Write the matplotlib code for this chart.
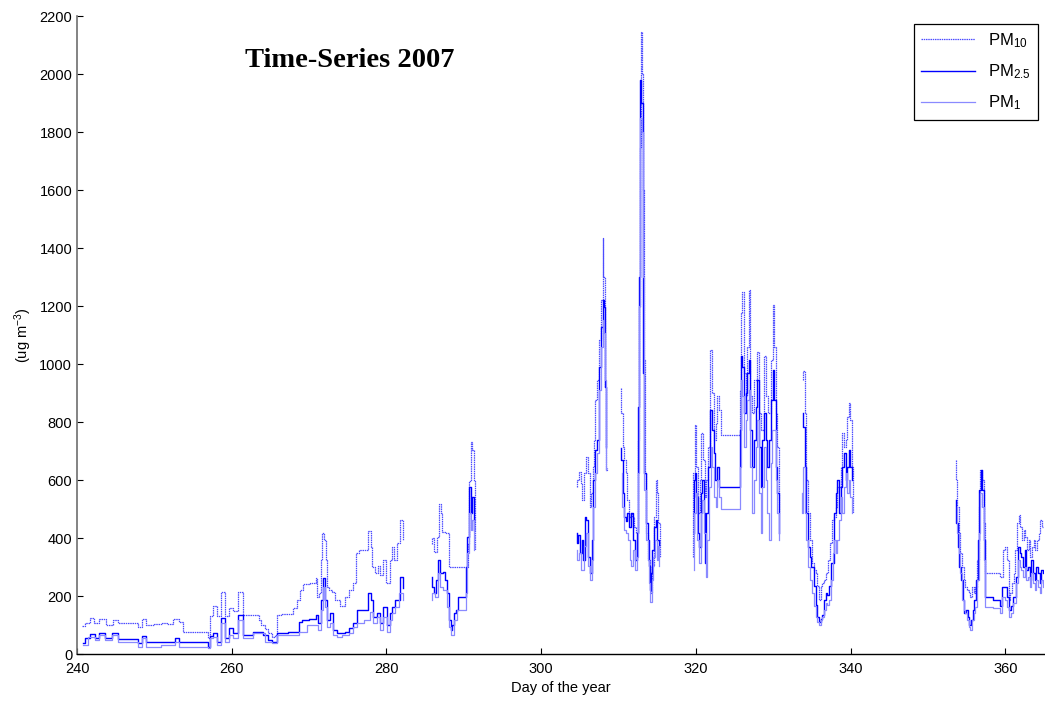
import numpy as np
import matplotlib
matplotlib.use("Agg")
import matplotlib.pyplot as plt

plt.rcParams['font.family'] = ['Liberation Sans', 'DejaVu Sans']
plt.rcParams['mathtext.fontset'] = 'custom'
plt.rcParams['mathtext.rm'] = 'Liberation Sans'
plt.rcParams['mathtext.it'] = 'Liberation Sans'
plt.rcParams['mathtext.default'] = 'regular'

NAN = np.nan

# PM10 concentrations (ug m-3), day of year; nan separates measurement campaigns
pm10_day = [
    240.7, 241.25, 242.0, 242.5, 243.2, 244.3, 244.9, 245.6, 247.7, 248.1, 248.7, 249.2,
    250.7, 251.2, 252.0, 252.9, 253.5, 253.8, 256.8, 257.0, 257.4, 257.8, 258.3, 258.9,
    259.4, 260.0, 260.4, 261.1, 261.7, 263.4, 263.65, 264.0, 264.5, 264.94, 265.37, 265.8,
    266.0, 266.66, 267.74, 268.17, 268.6, 269.03, 269.46, 270.75, 270.97, 271.18, 271.4,
    271.6, 271.83, 272.05, 272.26, 272.48, 272.7, 273.12, 273.55, 274.4, 274.85, 275.5,
    275.9, 276.35, 276.57, 277.43, 277.86, 278.08, 278.3, 278.7, 279.07, 279.37, 279.8,
    280.2, 280.66, 280.87, 281.2, 281.5, 281.95, 282.3, NAN,
    285.74, 286.04, 286.34, 286.6, 286.9, 287.12, 287.33, 287.98, 288.11, 290.35, 290.61,
    290.78, 291.0, 291.21, 291.34, 291.47, NAN,
    304.6, 304.77, 304.98, 305.2, 305.41, 305.76, 305.93, 306.19, 306.36, 306.58, 306.71,
    306.92, 307.05, 307.35, 307.65, 307.91, 307.98, 308.1, 308.34, 308.43, 308.6, NAN,
    310.28, 310.45, 310.58, 310.8, 311.01, 311.23, 311.44, 311.66, 311.87, 312.22, 312.39,
    312.56, 312.74, 312.9, 313.0, 313.1, 313.25, 313.38, 313.51, 313.68, 313.94, 314.11,
    314.29, 314.46, 314.67, 314.89, 315.06, 315.23, 315.41, NAN,
    319.42, 319.72, 319.98, 320.15, 320.41, 320.58, 320.84, 321.01, 321.27, 321.44, 321.7,
    322.0, 322.22, 322.43, 322.65, 322.86, 323.08, 323.29, 325.6, 325.75, 325.92, 326.09,
    326.31, 326.52, 326.74, 326.95, 327.13, 327.38, 327.73, 328.03, 328.25, 328.59, 328.89,
    329.19, 329.54, 329.88, 330.05, 330.23, 330.4, 330.61, 330.74, NAN,
    333.63, 333.93, 334.19, 334.36, 334.62, 334.92, 335.14, 335.35, 335.57, 335.78, 336.0,
    336.21, 336.43, 336.64, 336.86, 337.2, 337.5, 337.72, 337.94, 338.15, 338.37, 338.58,
    338.8, 339.01, 339.23, 339.44, 339.66, 339.87, 340.09, 340.22, 340.3, NAN,
    353.57, 353.65, 353.87, 354.08, 354.3, 354.51, 354.73, 354.94, 355.16, 355.37, 355.59,
    355.8, 356.02, 356.24, 356.45, 356.67, 356.88, 357.1, 357.31, 357.44, 359.25, 359.46,
    359.9, 360.11, 360.33, 360.54, 360.76, 360.97, 361.19, 361.4, 361.66, 361.83, 362.05,
    362.26, 362.48, 362.7, 362.91, 363.13, 363.34, 363.56, 363.77, 363.99, 364.2, 364.42,
    364.63, 364.85,
]
pm10_val = [
    95, 108, 125, 106, 120, 100, 118, 108, 108, 92, 120, 100,
    104, 108, 102, 122, 110, 75, 75, 54, 130, 165, 130, 215,
    130, 160, 150, 215, 135, 135, 118, 100, 88, 71, 60, 66,
    134, 138, 138, 157, 186, 221, 241, 244, 261, 198, 209,
    324, 416, 393, 324, 232, 221, 215, 186, 166, 198, 221,
    244, 347, 359, 359, 425, 370, 301, 278, 304, 272, 324,
    244, 324, 370, 324, 382, 462, 393, NAN,
    381, 399, 353, 404, 519, 485, 422, 418, 301, 301, 381,
    597, 732, 703, 597, 358, NAN,
    577, 600, 629, 590, 531, 623, 681, 623, 508, 554, 646,
    738, 876, 945, 1083, 1221, 1435, 1300, 922, 635, 640, NAN,
    917, 830, 715, 669, 623, 531, 474, 485, 474, 439, 417,
    738, 1198, 1750, 2145, 2000, 1600, 1014, 623, 417, 325, 279,
    210, 302, 474, 600, 554, 451, 336, NAN,
    336, 623, 790, 646, 485, 600, 761, 669, 543, 600, 715,
    1049, 899, 738, 796, 888, 842, 756, 756, 911, 1175, 1250,
    968, 888, 1060, 1256, 888, 830, 945, 1043, 830, 773, 1026,
    888, 830, 1014, 1204, 1060, 830, 715, 485, NAN,
    945, 975, 830, 600, 485, 393, 313, 290, 279, 233, 187,
    233, 244, 256, 279, 325, 382, 462, 474, 508, 577, 577,
    646, 761, 715, 738, 819, 865, 808, 646, 485, NAN,
    669, 600, 508, 416, 347, 301, 255, 232, 221, 209, 198,
    232, 209, 232, 324, 508, 635, 600, 451, 278, 278, 267,
    359, 370, 324, 186, 209, 244, 278, 359, 451, 479, 439,
    393, 428, 405, 359, 393, 336, 370, 393, 359, 393, 416,
    462, 439,
]

# PM2.5 concentrations (ug m-3)
pm25_day = [
    240.73, 241.25, 242.03, 242.54, 243.19, 244.05, 244.91, 245.56, 247.72, 248.15, 248.66,
    249.22, 252.46, 252.89, 253.53, 256.77, 256.98, 257.41, 257.84, 258.28, 258.92, 259.35,
    260.0, 260.43, 261.08, 261.72, 263.65, 264.51, 264.94, 265.59, 266.02, 268.6, 268.82,
    269.25, 270.75, 270.97, 271.4, 271.61, 271.92, 272.17, 272.48, 272.91, 273.34, 273.77,
    274.41, 274.85, 275.49, 275.92, 276.57, 277.43, 277.86, 278.08, 278.5, 278.94, 279.28,
    279.8, 280.23, 280.57, 280.87, 281.22, 281.52, 281.95, 282.3, NAN,
    285.83, 286.04, 286.26, 286.56, 286.82, 287.12, 287.42, 287.76, 287.98, 288.2, 288.41,
    288.62, 288.84, 289.06, 289.49, 290.13, 290.35, 290.56, 290.78, 290.99, 291.21, 291.34, NAN,
    304.6, 304.64, 304.9, 305.11, 305.33, 305.5, 305.76, 305.93, 306.19, 306.4, 306.62,
    306.84, 307.05, 307.35, 307.57, 307.87, 308.0, 308.13, 308.26, 308.34, 308.43, NAN,
    310.28, 310.45, 310.58, 310.8, 311.01, 311.23, 311.53, 311.79, 311.96, 312.22, 312.43,
    312.56, 312.7, 312.85, 313.05, 313.15, 313.25, 313.43, 313.68, 313.86, 314.03, 314.16,
    314.29, 314.46, 314.67, 314.89, 315.1, 315.32, NAN,
    319.63, 319.85, 319.98, 320.15, 320.32, 320.49, 320.71, 320.92, 321.14, 321.27, 321.44,
    321.7, 322.0, 322.22, 322.35, 322.56, 322.86, 323.08, 323.29, 325.6, 325.75, 325.92,
    326.09, 326.31, 326.52, 326.74, 326.95, 327.13, 327.38, 327.6, 327.82, 328.03, 328.25,
    328.46, 328.68, 328.89, 329.11, 329.33, 329.62, 329.88, 330.05, 330.23, 330.4, 330.61,
    330.74, NAN,
    333.76, 333.93, 334.19, 334.36, 334.62, 334.79, 335.05, 335.35, 335.57, 335.78, 336.0,
    336.21, 336.43, 336.64, 336.86, 337.07, 337.29, 337.63, 337.94, 338.15, 338.37, 338.58,
    338.8, 339.01, 339.23, 339.44, 339.66, 339.87, 340.09, 340.22, NAN,
    353.57, 353.74, 353.95, 354.17, 354.38, 354.6, 354.81, 355.03, 355.24, 355.46, 355.68,
    355.89, 356.1, 356.32, 356.54, 356.75, 356.93, 357.1, 357.27, 357.44, 359.25, 359.46,
    359.77, 360.03, 360.33, 360.54, 360.89, 361.19, 361.49, 361.75, 361.96, 362.18, 362.4,
    362.61, 362.83, 363.04, 363.26, 363.47, 363.69, 363.9, 364.12, 364.33, 364.55, 364.76,
    364.94,
]
pm25_val = [
    37, 54, 69, 54, 74, 54, 71, 52, 52, 37, 62,
    40, 40, 56, 40, 40, 25, 62, 71, 43, 123, 54,
    89, 71, 134, 66, 77, 66, 48, 43, 71, 77, 112,
    117, 120, 134, 106, 186, 261, 186, 117, 140, 83, 71,
    71, 77, 89, 106, 152, 152, 209, 186, 129, 140, 106,
    163, 100, 140, 163, 186, 186, 264, 226, NAN,
    267, 232, 209, 255, 324, 278, 284, 255, 209, 117, 83,
    100, 140, 152, 198, 198, 301, 405, 577, 485, 543, 428, NAN,
    417, 382, 411, 348, 394, 325, 474, 462, 336, 279, 394,
    600, 704, 738, 991, 1129, 1221, 1198, 1083, 922, 715, NAN,
    710, 669, 554, 474, 457, 485, 439, 485, 393, 325, 417,
    853, 1300, 1980, 1900, 1400, 968, 623, 451, 393, 302, 221,
    279, 359, 439, 462, 393, 371, NAN,
    416, 600, 623, 543, 416, 370, 554, 600, 485, 313, 485,
    646, 842, 773, 692, 600, 646, 577, 575, 575, 773, 1026,
    991, 830, 899, 968, 1014, 773, 646, 738, 853, 945, 715,
    577, 738, 830, 738, 646, 738, 876, 980, 876, 646, 554,
    416, NAN,
    830, 784, 646, 485, 370, 336, 301, 233, 169, 129, 110,
    120, 135, 187, 210, 204, 233, 313, 485, 554, 600, 485,
    577, 646, 692, 600, 646, 704, 646, 600, NAN,
    531, 451, 370, 301, 255, 186, 140, 152, 129, 100, 117,
    152, 186, 255, 393, 566, 635, 566, 393, 198, 186, 164,
    232, 232, 198, 152, 164, 198, 267, 370, 347, 336, 301,
    359, 290, 301, 255, 324, 278, 255, 301, 278, 244, 290,
    278,
]

# PM1 concentrations (ug m-3)
pm1_day = [
    240.73, 242.03, 242.54, 243.19, 244.05, 244.91, 245.56, 247.72, 248.15, 248.66, 249.22,
    252.46, 252.89, 253.53, 256.77, 256.98, 257.41, 257.84, 258.28, 258.92, 259.35, 260.0,
    260.43, 261.08, 261.72, 263.65, 264.94, 265.59, 266.02, 268.6, 268.82, 270.75, 270.97,
    271.4, 271.61, 271.92, 272.17, 272.48, 272.91, 273.34, 273.77, 274.85, 275.49, 275.92,
    276.57, 277.64, 278.08, 278.5, 278.94, 279.28, 279.8, 280.23, 280.57, 280.87, 281.3,
    281.95, 282.3, NAN,
    285.7, 286.04, 286.38, 286.82, 287.12, 287.55, 287.98, 288.2, 288.5, 288.84, 289.27,
    290.13, 290.35, 290.56, 290.78, 290.99, 291.21, 291.42, NAN,
    304.6, 304.77, 304.98, 305.33, 305.63, 305.93, 306.19, 306.4, 306.62, 306.84, 307.05,
    307.35, 307.57, 307.87, 308.0, 308.13, 308.26, 308.43, NAN,
    310.37, 310.58, 310.8, 311.01, 311.36, 311.53, 311.79, 311.96, 312.22, 312.43, 312.56,
    312.75, 312.9, 313.05, 313.2, 313.43, 313.68, 313.86, 314.03, 314.2, 314.38, 314.55,
    314.8, 315.02, 315.19, 315.37, NAN,
    319.55, 319.85, 320.07, 320.28, 320.49, 320.71, 320.92, 321.14, 321.36, 321.57, 321.79,
    322.0, 322.22, 322.43, 322.65, 322.86, 323.08, 323.29, 325.6, 325.75, 325.92, 326.09,
    326.31, 326.52, 326.74, 326.95, 327.13, 327.38, 327.6, 327.82, 328.03, 328.25, 328.46,
    328.68, 328.89, 329.11, 329.33, 329.54, 329.76, 329.97, 330.19, 330.4, 330.61, 330.74, NAN,
    333.59, 333.76, 333.93, 334.19, 334.36, 334.62, 334.92, 335.14, 335.35, 335.57, 335.78,
    336.0, 336.21, 336.43, 336.64, 336.86, 337.07, 337.29, 337.63, 337.81, 337.98, 338.15,
    338.37, 338.58, 338.8, 339.01, 339.23, 339.44, 339.66, 339.87, 340.09, 340.3, NAN,
    353.65, 353.87, 354.08, 354.3, 354.51, 354.73, 354.94, 355.16, 355.37, 355.59, 355.8,
    356.02, 356.24, 356.45, 356.67, 356.88, 357.1, 357.31, 357.44, 359.25, 359.46, 359.77,
    360.03, 360.33, 360.54, 360.89, 361.19, 361.49, 361.75, 361.96, 362.18, 362.4, 362.61,
    362.83, 363.04, 363.26, 363.47, 363.69, 363.9, 364.12, 364.33, 364.55, 364.76, 364.94,
]
pm1_val = [
    31, 60, 48, 66, 48, 66, 43, 43, 25, 54, 25,
    31, 43, 25, 25, 20, 54, 60, 31, 106, 43, 66,
    54, 117, 54, 71, 43, 37, 66, 66, 77, 100, 100,
    83, 152, 232, 163, 94, 106, 66, 60, 66, 71, 94,
    106, 117, 146, 106, 129, 83, 129, 77, 117, 140, 163,
    209, 186, NAN,
    186, 209, 198, 278, 232, 221, 163, 94, 66, 117, 152,
    152, 209, 347, 485, 428, 462, 359, NAN,
    359, 325, 348, 290, 371, 417, 302, 256, 325, 508, 623,
    692, 911, 1060, 1152, 1106, 945, 635, NAN,
    623, 508, 428, 417, 393, 325, 302, 359, 290, 336, 623,
    1200, 1850, 1800, 1300, 566, 393, 325, 244, 181, 256, 336,
    393, 325, 371, 302, NAN,
    290, 485, 554, 393, 313, 485, 531, 416, 267, 393, 577,
    715, 646, 543, 508, 600, 543, 499, 499, 646, 945, 888,
    715, 807, 876, 911, 646, 485, 600, 715, 807, 554, 416,
    577, 715, 600, 485, 393, 658, 773, 773, 600, 485, 393, NAN,
    554, 485, 646, 485, 393, 301, 256, 210, 164, 129, 112,
    100, 118, 129, 152, 175, 169, 187, 256, 347, 393, 347,
    393, 462, 543, 485, 577, 623, 554, 600, 543, 485, NAN,
    508, 416, 347, 278, 186, 152, 140, 117, 94, 83, 117,
    140, 163, 255, 416, 554, 508, 324, 163, 157, 140, 198,
    186, 163, 129, 140, 175, 244, 324, 301, 290, 267, 301,
    255, 267, 232, 278, 244, 221, 255, 232, 209, 255, 232,
]

fig = plt.figure(figsize=(10.45, 7.05), dpi=100)
ax = fig.add_axes([0.0737, 0.0723, 0.9254, 0.905])

ax.plot(pm10_day, pm10_val, color='#4c4cff', lw=0.9, linestyle=(0, (1.2, 0.6)),
        label='PM$_{10}$', drawstyle='steps-mid')
ax.plot(pm25_day, pm25_val, color='#0000ff', lw=1.0, label='PM$_{2.5}$',
        drawstyle='steps-mid')
ax.plot(pm1_day, pm1_val, color='#8a8aff', lw=0.9, label='PM$_1$',
        drawstyle='steps-mid')

ax.set_xlim(240, 365)
ax.set_ylim(0, 2200)
ax.set_xticks(np.arange(240, 361, 20))
ax.set_yticks(np.arange(0, 2201, 200))
ax.tick_params(direction='in', length=4, labelsize=10.5, width=0.8)
ax.tick_params(axis='x', pad=6)
for side in ('top', 'right'):
    ax.spines[side].set_visible(False)
ax.spines['left'].set_color('#6e6e6e')
ax.spines['left'].set_linewidth(1.2)
ax.spines['bottom'].set_linewidth(1.0)

ax.set_xlabel('Day of the year', fontsize=10.5, labelpad=3)
ax.set_ylabel('(ug m$^{-3}$)', fontsize=10.5, labelpad=4)

ax.text(0.2816, 0.931, 'Time-Series 2007', transform=ax.transAxes,
        ha='center', va='center', fontsize=20.5, fontweight='bold',
        family='Liberation Serif')

leg = ax.legend(loc='upper right', bbox_to_anchor=(0.994, 0.988), fontsize=12,
                fancybox=False, edgecolor='black', framealpha=1, borderaxespad=0,
                handlelength=3.2, borderpad=0.45, labelspacing=0.75)
leg.get_frame().set_linewidth(0.9)

fig.savefig('out.png', dpi=100)
